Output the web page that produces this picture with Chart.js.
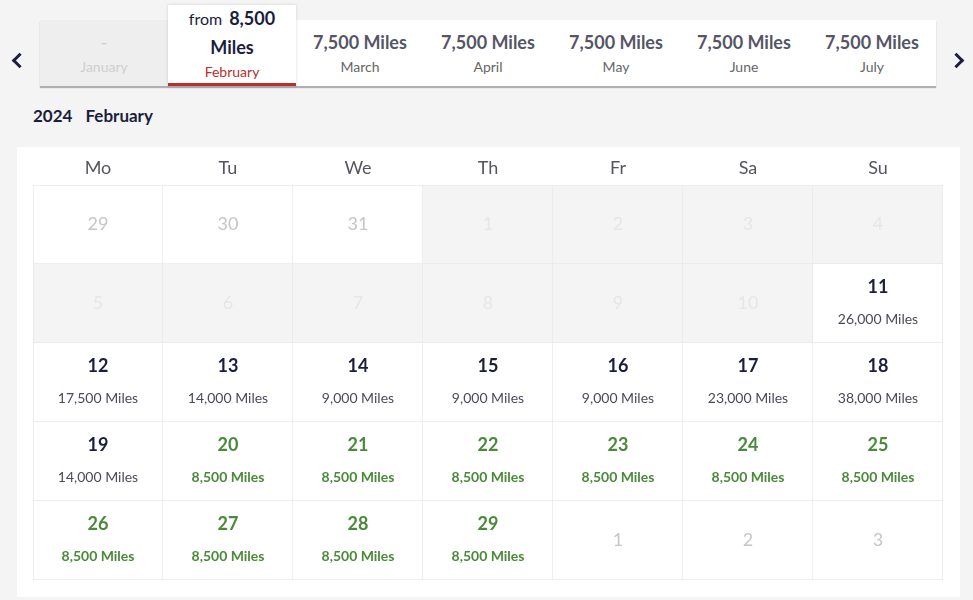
<!DOCTYPE html>
<html lang="en">
<head>
    <meta charset="UTF-8">
    <title>Award calendar</title>
    <script src="https://cdn.jsdelivr.net/npm/chart.js"></script>
    <style>
        body {
            margin: 0;
            width: 973px;
            height: 600px;
            background: #f4f4f4;
            font-family: Lato, "Open Sans", sans-serif;
            position: relative;
            overflow: hidden;
        }
        .arrow {
            position: absolute;
            top: 55px;
            width: 8px;
            height: 8px;
            border-top: 3px solid #1b1d3d;
            border-left: 3px solid #1b1d3d;
        }
        .arrow.prev { left: 14px; transform: rotate(-45deg); }
        .arrow.next { left: 951px; transform: rotate(135deg); }
        .tabs {
            position: absolute;
            left: 40px;
            top: 20px;
            width: 896px;
            height: 66px;
            background: white;
            box-shadow: 0 2px 1px rgba(0, 0, 0, 0.28);
        }
        .tab {
            position: absolute;
            top: 0;
            width: 128px;
            height: 66px;
            text-align: center;
        }
        .tab div {
            position: absolute;
            left: 0;
            right: 0;
            line-height: 20px;
        }
        .tab .miles { top: 12px; font-size: 18px; font-weight: 700; color: #555566; }
        .tab .month { top: 37px; font-size: 14px; color: #666; }
        .tab.off { background: #eeeeee; }
        .tab.off .miles, .tab.off .month { color: #cfcfcf; font-weight: 400; }
        .tab.sel {
            top: -15px;
            height: 78px;
            border-bottom: 3px solid #b8302c;
            box-shadow: 0 0 3px rgba(0, 0, 0, 0.15);
            z-index: 2;
            background: white;
        }
        .tab.sel .l1 { top: 3px; font-size: 18px; font-weight: 700; color: #1b1d3d; }
        .tab.sel .l1 span { font-weight: 400; font-size: 16px; margin-right: 7px; }
        .tab.sel .l2 { top: 32px; font-size: 18px; font-weight: 700; color: #1b1d3d; }
        .tab.sel .l3 { top: 57px; font-size: 14px; color: #b8302c; }
        .title {
            position: absolute;
            left: 33px;
            top: 106px;
            font-size: 17px;
            font-weight: 700;
            color: #1b1d3d;
            line-height: 20px;
        }
        .title span { margin-left: 13px; }
        .panel {
            position: absolute;
            left: 17px;
            top: 147px;
            width: 943px;
            height: 450px;
            background: white;
        }
    </style>
</head>
<body>
    <div class="arrow prev"></div>
    <div class="arrow next"></div>
    <div class="tabs" id="tabs"></div>
    <div class="title">2024<span>February</span></div>
    <div class="panel"><canvas id="cal" width="943" height="450"></canvas></div>
    <script>
        // month tabs
        const tabMonths = ['January', 'February', 'March', 'April', 'May', 'June', 'July'];
        const tabMiles = [null, 8500, 7500, 7500, 7500, 7500, 7500];
        const selectedTab = 1;

        // calendar grid (Mon..Sun, 5 weeks)
        const weekdays = ['Mo', 'Tu', 'We', 'Th', 'Fr', 'Sa', 'Su'];
        const dayNumbers = [
            29, 30, 31, 1, 2, 3, 4,
            5, 6, 7, 8, 9, 10, 11,
            12, 13, 14, 15, 16, 17, 18,
            19, 20, 21, 22, 23, 24, 25,
            26, 27, 28, 29, 1, 2, 3
        ];
        // 'other' = outside February, 'off' = no seats, 'on' = bookable
        const dayState = [
            'other', 'other', 'other', 'off', 'off', 'off', 'off',
            'off', 'off', 'off', 'off', 'off', 'off', 'on',
            'on', 'on', 'on', 'on', 'on', 'on', 'on',
            'on', 'on', 'on', 'on', 'on', 'on', 'on',
            'on', 'on', 'on', 'on', 'other', 'other', 'other'
        ];
        const dayMiles = [
            null, null, null, null, null, null, null,
            null, null, null, null, null, null, 26000,
            17500, 14000, 9000, 9000, 9000, 23000, 38000,
            14000, 8500, 8500, 8500, 8500, 8500, 8500,
            8500, 8500, 8500, 8500, null, null, null
        ];
        const lowestMiles = Math.min(...dayMiles.filter(m => m !== null));

        const fmt = n => n.toLocaleString('en-US');

        // build tabs
        const tabsEl = document.getElementById('tabs');
        tabMonths.forEach((m, i) => {
            const t = document.createElement('div');
            t.className = 'tab';
            t.style.left = (i * 128) + 'px';
            if (i === selectedTab) {
                t.classList.add('sel');
                t.innerHTML = '<div class="l1"><span>from</span>' + fmt(tabMiles[i]) + '</div>' +
                    '<div class="l2">Miles</div><div class="l3">' + m + '</div>';
            } else {
                if (tabMiles[i] === null) t.classList.add('off');
                t.innerHTML = '<div class="miles">' + (tabMiles[i] === null ? '-' : fmt(tabMiles[i]) + ' Miles') +
                    '</div><div class="month">' + m + '</div>';
            }
            tabsEl.appendChild(t);
        });

        const weeks = dayNumbers.length / 7;
        const datasets = [];
        for (let r = 0; r < weeks; r++) {
            datasets.push({
                label: 'week ' + (r + 1),
                data: weekdays.map(() => [r, r + 1]),
                backgroundColor: weekdays.map((d, c) => dayState[r * 7 + c] === 'off' ? '#f4f4f4' : '#ffffff'),
                borderColor: '#e8e8e8',
                borderWidth: ctx => ({
                    top: ctx.datasetIndex === 0 ? 1 : 0,
                    left: ctx.dataIndex === 0 ? 1 : 0,
                    right: 1,
                    bottom: 1
                }),
                borderSkipped: false,
                barPercentage: 1,
                categoryPercentage: 1
            });
        }

        const cellText = {
            id: 'cellText',
            afterDatasetsDraw(chart) {
                const ctx = chart.ctx;
                ctx.save();
                ctx.textAlign = 'center';
                ctx.textBaseline = 'middle';
                chart.data.datasets.forEach((ds, r) => {
                    chart.getDatasetMeta(r).data.forEach((bar, c) => {
                        const i = r * 7 + c;
                        const cx = bar.x;
                        const cy = (bar.y + bar.base) / 2;
                        const state = dayState[i];
                        if (state !== 'on') {
                            ctx.font = '400 18px Lato';
                            ctx.fillStyle = state === 'other' ? '#c6c6c6' : '#e6e6e6';
                            ctx.fillText(dayNumbers[i], cx, cy);
                            return;
                        }
                        const cheap = dayMiles[i] === lowestMiles;
                        ctx.font = '700 18px Lato';
                        ctx.fillStyle = cheap ? '#4a8a3a' : '#1b1d3d';
                        ctx.fillText(dayNumbers[i], cx, cy - 16);
                        ctx.font = (cheap ? '700' : '400') + ' 14px Lato';
                        ctx.fillStyle = cheap ? '#4a8a3a' : '#4a4a5a';
                        ctx.fillText(fmt(dayMiles[i]) + ' Miles', cx, cy + 16);
                    });
                });
                ctx.restore();
            }
        };

        new Chart(document.getElementById('cal'), {
            type: 'bar',
            data: { labels: weekdays, datasets: datasets },
            options: {
                responsive: false,
                animation: false,
                grouped: false,
                layout: { padding: { left: 16, right: 17, bottom: 17, top: 0 } },
                plugins: { legend: { display: false }, tooltip: { enabled: false } },
                scales: {
                    x: {
                        position: 'top',
                        grid: { display: false, drawTicks: false },
                        border: { display: false },
                        ticks: { font: { family: 'Lato', size: 18 }, color: '#555560', padding: 6 },
                        afterFit: s => { s.height = 38; }
                    },
                    y: {
                        display: false,
                        min: 0,
                        max: weeks,
                        reverse: true
                    }
                }
            },
            plugins: [cellText]
        });
    </script>
</body>
</html>
